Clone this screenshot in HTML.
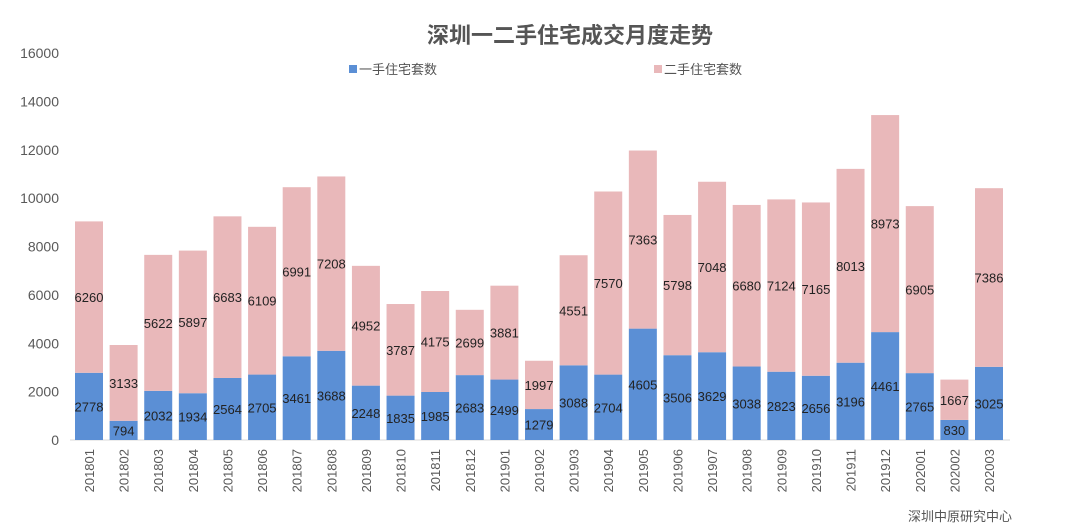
<!DOCTYPE html>
<html><head><meta charset="utf-8">
<style>
body{margin:0;background:#fff;}
svg{display:block;font-family:"Liberation Sans","Noto Sans CJK SC",sans-serif;}
</style></head>
<body>
<svg id="chart" width="1080" height="531" viewBox="0 0 1080 531">
<text x="570" y="43" text-anchor="middle" font-size="22" font-weight="bold" fill="#555">深圳一二手住宅成交月度走势</text>
<g>
<rect x="349" y="65" width="8" height="8" fill="#5b8fd5"/>
<text x="359" y="74" font-size="13" fill="#555">一手住宅套数</text>
<rect x="654" y="65" width="8" height="8" fill="#e9b8ba"/>
<text x="664" y="74" font-size="13" fill="#555">二手住宅套数</text>
</g>
<g id="yaxis"></g>
<g id="bars"></g>
<g id="xaxis"></g>
<text x="1012" y="521" text-anchor="end" font-size="13" fill="#555">深圳中原研究中心</text>
</svg>
<script>
const categories=["201801","201802","201803","201804","201805","201806","201807","201808","201809","201810","201811","201812","201901","201902","201903","201904","201905","201906","201907","201908","201909","201910","201911","201912","202001","202002","202003"];
const newHomes=[2778,794,2032,1934,2564,2705,3461,3688,2248,1835,1985,2683,2499,1279,3088,2704,4605,3506,3629,3038,2823,2656,3196,4461,2765,830,3025];
const resaleHomes=[6260,3133,5622,5897,6683,6109,6991,7208,4952,3787,4175,2699,3881,1997,4551,7570,7363,5798,7048,6680,7124,7165,8013,8973,6905,1667,7386];
const yTicks=[0,2000,4000,6000,8000,10000,12000,14000,16000];
const NS="http://www.w3.org/2000/svg";
const y0=440,yTop=53,yMax=16000;
function yScale(v){return y0-(v/yMax)*(y0-yTop);}
const xStart=89,xEnd=989;
function xScale(i){return xStart+i*(xEnd-xStart)/(categories.length-1);}
const bw=28;
function mk(tag,attrs,parent,txt){const e=document.createElementNS(NS,tag);for(const k in attrs)e.setAttribute(k,attrs[k]);if(txt!==undefined)e.textContent=txt;parent.appendChild(e);return e;}
const ya=document.getElementById('yaxis');
yTicks.forEach(t=>{
  const e=mk('text',{x:59,y:yScale(t)+5,'text-anchor':'end','font-size':14,fill:'#595959'},ya,t);
  
  
});
const ax=mk('line',{x1:70,x2:1010,y1:y0,y2:y0,stroke:'#d9d9d9'},ya);


const bars=document.getElementById('bars');
const xa=document.getElementById('xaxis');
categories.forEach((c,i)=>{
  const cx=xScale(i);
  const a=newHomes[i],b=resaleHomes[i];
  const r1=mk('rect',{x:cx-bw/2,y:yScale(a),width:bw,height:y0-yScale(a),fill:'#5b8fd5'},bars);
  
  
  const r2=mk('rect',{x:cx-bw/2,y:yScale(a+b),width:bw,height:yScale(a)-yScale(a+b),fill:'#e9b8ba'},bars);
  
  
  const l1=mk('text',{x:cx,y:(y0+yScale(a))/2+5,'text-anchor':'middle','font-size':13,fill:'#222'},bars,a);
  
  
  const l2=mk('text',{x:cx,y:(yScale(a)+yScale(a+b))/2+5,'text-anchor':'middle','font-size':13,fill:'#222'},bars,b);
  
  
  const xl=mk('text',{x:0,y:0,'text-anchor':'end','font-size':13,fill:'#595959',transform:`translate(${cx+5},449) rotate(-90)`},xa,c);
  
  
});
</script>
</body></html>
